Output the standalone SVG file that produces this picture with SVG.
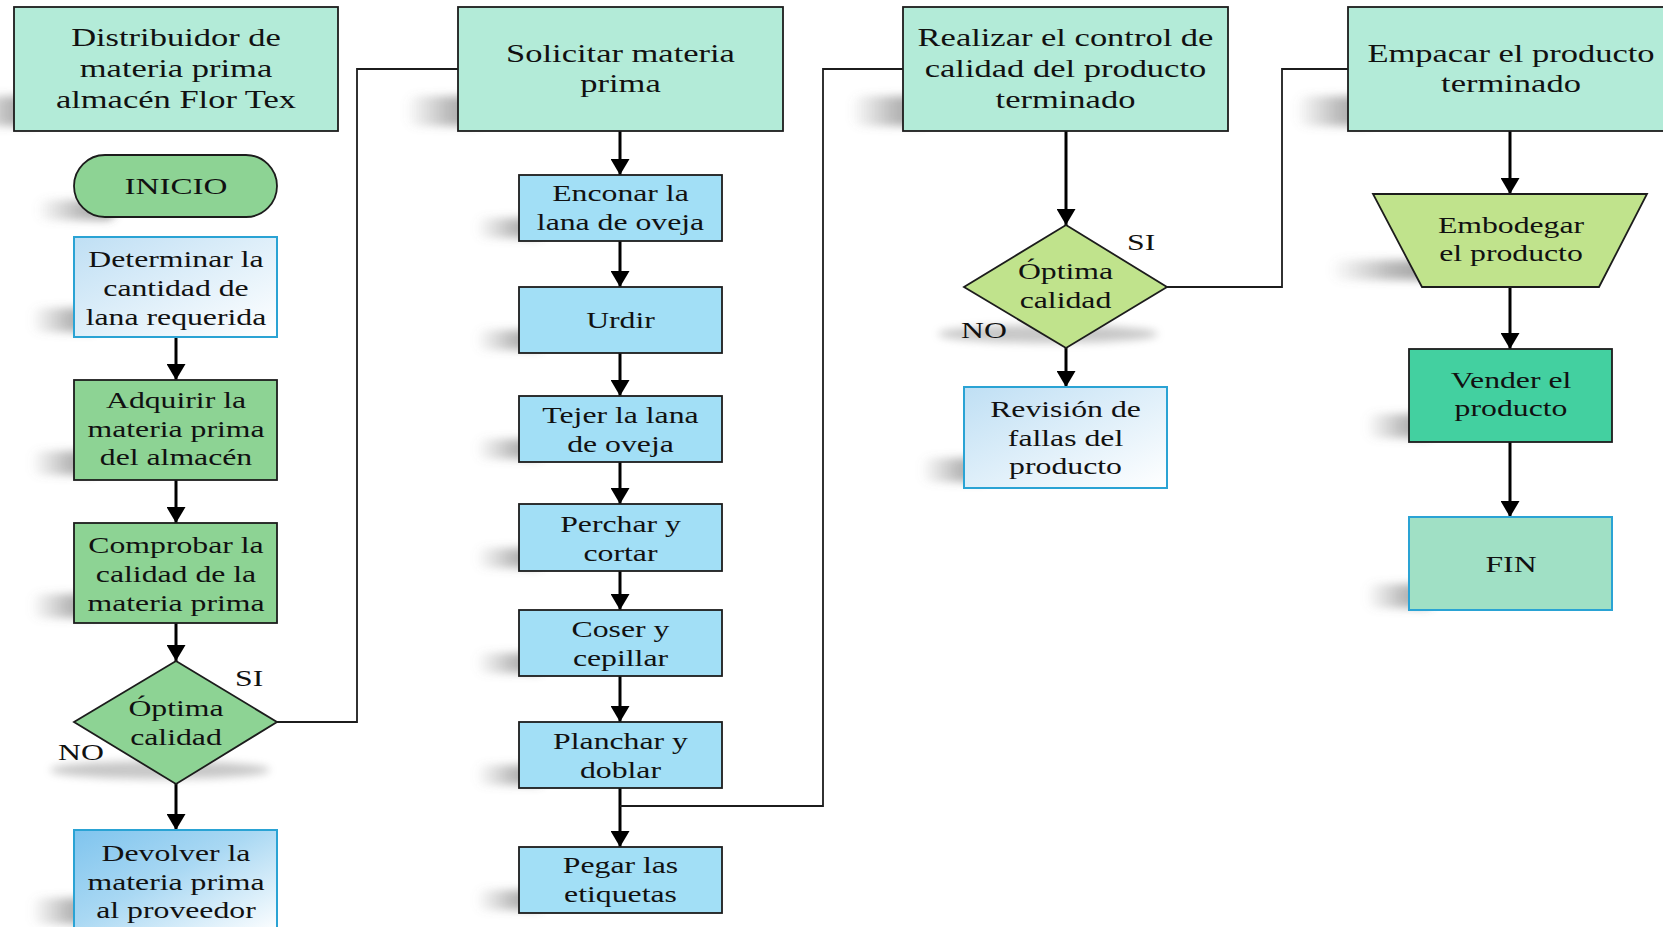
<svg xmlns="http://www.w3.org/2000/svg" width="1663" height="927" viewBox="0 0 1663 927">
  <style>
    .txt { font-family: "Liberation Serif", "Times New Roman", serif; font-size: 23px; fill: #111; text-anchor: middle; }
    .big { font-size: 25px; }
    .lbl { text-anchor: start; }
    .head { fill: #B3EBD8; stroke: #1c1c1c; stroke-width: 1.8; }
    .green { fill: #8DD394; stroke: #1c1c1c; stroke-width: 1.8; }
    .sky { fill: #A2DFF6; stroke: #1c1c1c; stroke-width: 1.8; }
    .lime { fill: #C0E38C; stroke: #1c1c1c; stroke-width: 1.8; }
    .teal { fill: #43D0A0; stroke: #1c1c1c; stroke-width: 1.8; }
    .pale { fill: url(#gLight); stroke: #2AA3D4; stroke-width: 2; }
    .deep { fill: url(#gDeep); stroke: #2AA3D4; stroke-width: 2; }
    .fin { fill: #A0E0C5; stroke: #2AA3D4; stroke-width: 2; }
    .shd { fill: url(#gShade); filter: url(#soft); }
    .shdE { fill: #606060; opacity: 0.35; filter: url(#soft); }
    .arrow { fill: none; stroke: #000; stroke-width: 3; marker-end: url(#head); }
    .route { fill: none; stroke: #1c1c1c; stroke-width: 1.8; }
  </style>
  <defs>
    <linearGradient id="gLight" x1="0" y1="0" x2="1" y2="1">
      <stop offset="0" stop-color="#BFDFF4"/>
      <stop offset="1" stop-color="#FFFFFF"/>
    </linearGradient>
    <linearGradient id="gDeep" x1="0" y1="0" x2="1" y2="1">
      <stop offset="0" stop-color="#7FC4EE"/>
      <stop offset="0.45" stop-color="#A9D8F3"/>
      <stop offset="1" stop-color="#FFFFFF"/>
    </linearGradient>
    <!-- drop shadow fading out to the left of each shape -->
    <linearGradient id="gShade" x1="0" y1="0" x2="1" y2="0">
      <stop offset="0" stop-color="#777" stop-opacity="0"/>
      <stop offset="0.55" stop-color="#666" stop-opacity="0.45"/>
      <stop offset="1" stop-color="#555" stop-opacity="0.6"/>
    </linearGradient>
    <filter id="soft" x="-50%" y="-100%" width="200%" height="300%">
      <feGaussianBlur stdDeviation="4"/>
    </filter>
    <marker id="head" viewBox="0 0 16 19" refX="16" refY="9.5" markerWidth="16" markerHeight="19" markerUnits="userSpaceOnUse" orient="auto">
      <path d="M0,0 L16,9.5 L0,19 z" fill="#000"/>
    </marker>
  </defs>

  <rect width="1663" height="927" fill="#fff"/>

  <!-- connectors -->
  <g id="connectors">
    <line class="arrow" x1="176" y1="337" x2="176" y2="380"/>
    <line class="arrow" x1="176" y1="480" x2="176" y2="523"/>
    <line class="arrow" x1="176" y1="623" x2="176" y2="661"/>
    <line class="arrow" x1="176" y1="784" x2="176" y2="830"/>
    <polyline class="route" points="277,722 357,722 357,69 458,69"/>

    <line class="arrow" x1="620" y1="131" x2="620" y2="175"/>
    <line class="arrow" x1="620" y1="241" x2="620" y2="287"/>
    <line class="arrow" x1="620" y1="353" x2="620" y2="396"/>
    <line class="arrow" x1="620" y1="462" x2="620" y2="504"/>
    <line class="arrow" x1="620" y1="571" x2="620" y2="610"/>
    <line class="arrow" x1="620" y1="676" x2="620" y2="722"/>
    <line class="arrow" x1="620" y1="788" x2="620" y2="847"/>
    <polyline class="route" points="620,806 823,806 823,69 903,69"/>

    <line class="arrow" x1="1066" y1="131" x2="1066" y2="225"/>
    <line class="arrow" x1="1066" y1="348" x2="1066" y2="387"/>
    <polyline class="route" points="1166,287 1282,287 1282,69 1348,69"/>

    <line class="arrow" x1="1510" y1="131" x2="1510" y2="194"/>
    <line class="arrow" x1="1510" y1="287" x2="1510" y2="349"/>
    <line class="arrow" x1="1510" y1="442" x2="1510" y2="517"/>
  </g>

  <!-- column 1 -->
  <g id="distribuidor">
    <rect class="shd" x="-30" y="96" width="70" height="30" rx="12"/>
    <rect class="head" x="14" y="7" width="324" height="124"/>
    <g transform="translate(176 0) scale(1.38 1)">
      <text class="txt big" x="0" y="46">Distribuidor de</text>
      <text class="txt big" x="0" y="77">materia prima</text>
      <text class="txt big" x="0" y="108">almacén Flor Tex</text>
    </g>
  </g>

  <g id="inicio">
    <rect class="shd" x="36" y="200" width="80" height="20" rx="10"/>
    <rect class="green" x="74" y="155" width="203" height="62" rx="31"/>
    <g transform="translate(176 0) scale(1.38 1)">
      <text class="txt" style="font-size:24px" x="0" y="194">INICIO</text>
    </g>
  </g>

  <g id="determinar">
    <rect class="shd" x="30" y="308" width="70" height="24" rx="10"/>
    <rect class="pale" x="74" y="237" width="203" height="100"/>
    <g transform="translate(176 0) scale(1.38 1)">
      <text class="txt" x="0" y="267">Determinar la</text>
      <text class="txt" x="0" y="296">cantidad de</text>
      <text class="txt" x="0" y="325">lana requerida</text>
    </g>
  </g>

  <g id="adquirir">
    <rect class="shd" x="30" y="451" width="70" height="24" rx="10"/>
    <rect class="green" x="74" y="380" width="203" height="100"/>
    <g transform="translate(176 0) scale(1.38 1)">
      <text class="txt" x="0" y="408">Adquirir la</text>
      <text class="txt" x="0" y="437">materia prima</text>
      <text class="txt" x="0" y="465">del almacén</text>
    </g>
  </g>

  <g id="comprobar">
    <rect class="shd" x="30" y="594" width="70" height="24" rx="10"/>
    <rect class="green" x="74" y="523" width="203" height="100"/>
    <g transform="translate(176 0) scale(1.38 1)">
      <text class="txt" x="0" y="553">Comprobar la</text>
      <text class="txt" x="0" y="582">calidad de la</text>
      <text class="txt" x="0" y="611">materia prima</text>
    </g>
  </g>

  <g id="decision1">
    <ellipse class="shdE" cx="160" cy="770" rx="110" ry="9"/>
    <polygon class="green" points="176,661 277,722 176,784 74,722"/>
    <g transform="translate(176 0) scale(1.38 1)">
      <text class="txt" x="0" y="716">Óptima</text>
      <text class="txt" x="0" y="745">calidad</text>
    </g>
    <g transform="translate(235 0) scale(1.38 1)">
      <text class="txt lbl" x="0" y="686">SI</text>
    </g>
    <g transform="translate(58 0) scale(1.38 1)">
      <text class="txt lbl" x="0" y="760">NO</text>
    </g>
  </g>

  <g id="devolver">
    <rect class="shd" x="30" y="898" width="70" height="26" rx="10"/>
    <rect class="deep" x="74" y="830" width="203" height="104"/>
    <g transform="translate(176 0) scale(1.38 1)">
      <text class="txt" x="0" y="861">Devolver la</text>
      <text class="txt" x="0" y="890">materia prima</text>
      <text class="txt" x="0" y="918">al proveedor</text>
    </g>
  </g>

  <!-- column 2 -->
  <g id="solicitar">
    <rect class="shd" x="405" y="96" width="80" height="30" rx="12"/>
    <rect class="head" x="458" y="7" width="325" height="124"/>
    <g transform="translate(620.5 0) scale(1.38 1)">
      <text class="txt big" x="0" y="62">Solicitar materia</text>
      <text class="txt big" x="0" y="92">prima</text>
    </g>
  </g>

  <g id="enconar">
    <rect class="shd" x="475" y="218" width="70" height="20" rx="9"/>
    <rect class="sky" x="519" y="175" width="203" height="66"/>
    <g transform="translate(620.5 0) scale(1.38 1)">
      <text class="txt" x="0" y="201">Enconar la</text>
      <text class="txt" x="0" y="230">lana de oveja</text>
    </g>
  </g>

  <g id="urdir">
    <rect class="shd" x="475" y="330" width="70" height="20" rx="9"/>
    <rect class="sky" x="519" y="287" width="203" height="66"/>
    <g transform="translate(620.5 0) scale(1.38 1)">
      <text class="txt" x="0" y="328">Urdir</text>
    </g>
  </g>

  <g id="tejer">
    <rect class="shd" x="475" y="439" width="70" height="20" rx="9"/>
    <rect class="sky" x="519" y="396" width="203" height="66"/>
    <g transform="translate(620.5 0) scale(1.38 1)">
      <text class="txt" x="0" y="423">Tejer la lana</text>
      <text class="txt" x="0" y="452">de oveja</text>
    </g>
  </g>

  <g id="perchar">
    <rect class="shd" x="475" y="548" width="70" height="20" rx="9"/>
    <rect class="sky" x="519" y="504" width="203" height="67"/>
    <g transform="translate(620.5 0) scale(1.38 1)">
      <text class="txt" x="0" y="532">Perchar y</text>
      <text class="txt" x="0" y="561">cortar</text>
    </g>
  </g>

  <g id="coser">
    <rect class="shd" x="475" y="653" width="70" height="20" rx="9"/>
    <rect class="sky" x="519" y="610" width="203" height="66"/>
    <g transform="translate(620.5 0) scale(1.38 1)">
      <text class="txt" x="0" y="637">Coser y</text>
      <text class="txt" x="0" y="666">cepillar</text>
    </g>
  </g>

  <g id="planchar">
    <rect class="shd" x="475" y="765" width="70" height="20" rx="9"/>
    <rect class="sky" x="519" y="722" width="203" height="66"/>
    <g transform="translate(620.5 0) scale(1.38 1)">
      <text class="txt" x="0" y="749">Planchar y</text>
      <text class="txt" x="0" y="778">doblar</text>
    </g>
  </g>

  <g id="pegar">
    <rect class="shd" x="475" y="890" width="70" height="20" rx="9"/>
    <rect class="sky" x="519" y="847" width="203" height="66"/>
    <g transform="translate(620.5 0) scale(1.38 1)">
      <text class="txt" x="0" y="873">Pegar las</text>
      <text class="txt" x="0" y="902">etiquetas</text>
    </g>
  </g>

  <!-- column 3 -->
  <g id="realizar">
    <rect class="shd" x="850" y="96" width="80" height="30" rx="12"/>
    <rect class="head" x="903" y="7" width="325" height="124"/>
    <g transform="translate(1065.5 0) scale(1.38 1)">
      <text class="txt big" x="0" y="46">Realizar el control de</text>
      <text class="txt big" x="0" y="77">calidad del producto</text>
      <text class="txt big" x="0" y="108">terminado</text>
    </g>
  </g>

  <g id="decision2">
    <ellipse class="shdE" cx="1048" cy="334" rx="110" ry="9"/>
    <polygon class="lime" points="1066,225 1167,287 1066,348 964,287"/>
    <g transform="translate(1065.5 0) scale(1.38 1)">
      <text class="txt" x="0" y="279">Óptima</text>
      <text class="txt" x="0" y="308">calidad</text>
    </g>
    <g transform="translate(1127 0) scale(1.38 1)">
      <text class="txt lbl" x="0" y="250">SI</text>
    </g>
    <g transform="translate(961 0) scale(1.38 1)">
      <text class="txt lbl" x="0" y="338">NO</text>
    </g>
  </g>

  <g id="revision">
    <rect class="shd" x="920" y="458" width="70" height="24" rx="10"/>
    <rect class="pale" x="964" y="387" width="203" height="101"/>
    <g transform="translate(1065.5 0) scale(1.38 1)">
      <text class="txt" x="0" y="417">Revisión de</text>
      <text class="txt" x="0" y="446">fallas del</text>
      <text class="txt" x="0" y="474">producto</text>
    </g>
  </g>

  <!-- column 4 -->
  <g id="empacar">
    <rect class="shd" x="1295" y="96" width="80" height="30" rx="12"/>
    <rect class="head" x="1348" y="7" width="330" height="124"/>
    <g transform="translate(1511 0) scale(1.38 1)">
      <text class="txt big" x="0" y="62">Empacar el producto</text>
      <text class="txt big" x="0" y="92">terminado</text>
    </g>
  </g>

  <g id="embodegar">
    <rect class="shd" x="1330" y="260" width="110" height="20" rx="9"/>
    <polygon class="lime" points="1373,194 1647,194 1599,287 1422,287"/>
    <g transform="translate(1511 0) scale(1.38 1)">
      <text class="txt" x="0" y="233">Embodegar</text>
      <text class="txt" x="0" y="261">el producto</text>
    </g>
  </g>

  <g id="vender">
    <rect class="shd" x="1365" y="414" width="70" height="24" rx="10"/>
    <rect class="teal" x="1409" y="349" width="203" height="93"/>
    <g transform="translate(1511 0) scale(1.38 1)">
      <text class="txt" x="0" y="388">Vender el</text>
      <text class="txt" x="0" y="416">producto</text>
    </g>
  </g>

  <g id="fin">
    <rect class="shd" x="1365" y="584" width="70" height="24" rx="10"/>
    <rect class="fin" x="1409" y="517" width="203" height="93"/>
    <g transform="translate(1511 0) scale(1.38 1)">
      <text class="txt" x="0" y="572">FIN</text>
    </g>
  </g>
</svg>
